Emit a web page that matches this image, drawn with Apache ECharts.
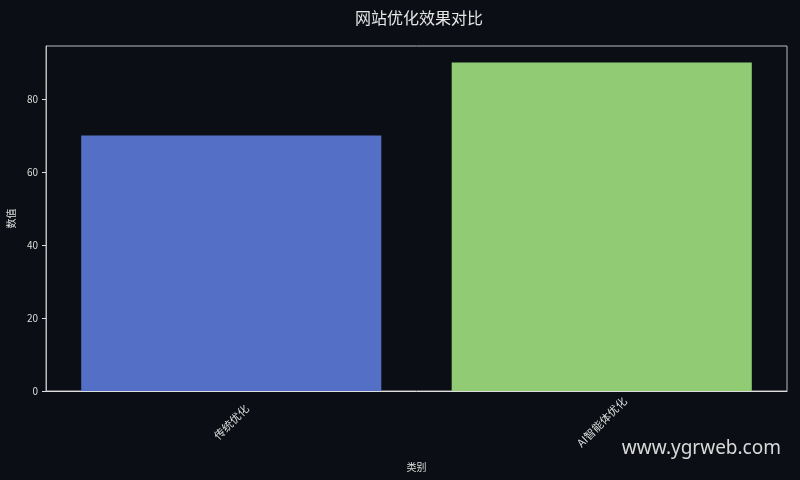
<!DOCTYPE html>
<html>
<head>
<meta charset="utf-8">
<script src="https://cdn.jsdelivr.net/npm/echarts@6/dist/echarts.min.js"></script>
<style>html,body{margin:0;padding:0;background:#0b0e14;}#c{width:800px;height:480px;}</style>
</head>
<body>
<div id="c"></div>
<script>
var categories = ['传统优化', 'AI智能体优化'];
var values = [70, 90];
var barColors = ['#5470c6', '#91cc75'];
var yTicks = [0, 20, 40, 60, 80];
var titleText = '网站优化效果对比';
var xName = '类别';
var yName = '数值';
var watermark = 'www.ygrweb.com';

var chart = echarts.init(document.getElementById('c'));
var font = '"Noto Sans CJK SC", "Noto Sans", sans-serif';
chart.setOption({
  backgroundColor: '#0b0e14',
  animation: false,
  title: {
    text: titleText, left: 350, top: 5,
    textStyle: { color: '#e6e6e6', fontSize: 16, fontWeight: 'normal', fontFamily: font }
  },
  grid: { left: 46, right: 13, top: 46, bottom: 89, show: true, borderColor: '#bbbbbb', borderWidth: 1,
    backgroundColor: 'transparent', containLabel: false, outerBoundsMode: 'none' },
  xAxis: {
    type: 'category', data: categories,
    name: xName, nameLocation: 'middle', nameGap: 71,
    nameTextStyle: { color: '#dddddd', fontSize: 10, fontFamily: font },
    axisLine: { lineStyle: { color: '#dddddd' } },
    axisTick: { alignWithLabel: true, length: 4, lineStyle: { color: '#dddddd' } },
    axisLabel: { rotate: 45, color: '#dddddd', fontSize: 11, fontFamily: font, margin: 31, align: 'center', verticalAlign: 'middle' },
    splitLine: { show: false }
  },
  yAxis: {
    type: 'value', min: 0, max: 94.5, interval: 20,
    name: yName, nameLocation: 'middle', nameGap: 27, nameRotate: 90,
    nameTextStyle: { color: '#dddddd', fontSize: 10, fontFamily: font },
    axisLine: { show: true, lineStyle: { color: '#bbbbbb' } },
    axisTick: { show: true, length: 4, lineStyle: { color: '#dddddd' } },
    axisLabel: { color: '#dddddd', fontSize: 10, fontFamily: font, margin: 8, showMaxLabel: false,
      formatter: function (v) { return yTicks.indexOf(v) >= 0 ? String(v) : ''; } },
    splitLine: { show: false }
  },
  series: [{
    type: 'bar', barWidth: '81%',
    data: values.map(function (v, i) { return { value: v, itemStyle: { color: barColors[i] } }; })
  }],
  graphic: [{
    type: 'text', right: 19, top: 439,
    style: { text: watermark, fill: '#d9d9d9', fontSize: 19, fontFamily: '"Noto Sans", sans-serif' }
  }]
});
</script>
</body>
</html>
